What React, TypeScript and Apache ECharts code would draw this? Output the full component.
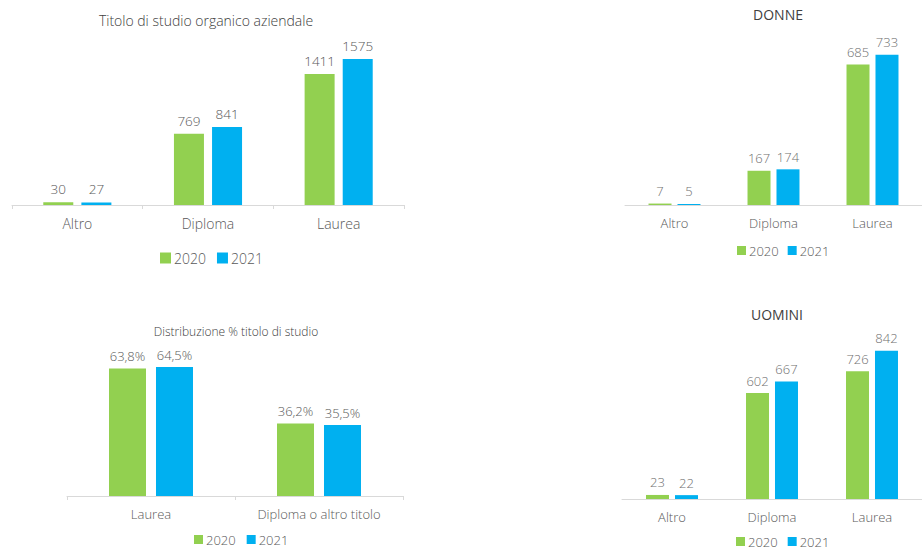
import React, { useEffect, useRef } from "react";
import * as echarts from "echarts";

const years = ["2020", "2021"];

const totCategories = ["Altro", "Diploma", "Laurea"];
const tot2020 = [30, 769, 1411];
const tot2021 = [27, 841, 1575];

const donneCategories = ["Altro", "Diploma", "Laurea"];
const donne2020 = [7, 167, 685];
const donne2021 = [5, 174, 733];

const pctCategories = ["Laurea", "Diploma o altro titolo"];
const pct2020 = [63.8, 36.2];
const pct2021 = [64.5, 35.5];

const uominiCategories = ["Altro", "Diploma", "Laurea"];
const uomini2020 = [23, 602, 726];
const uomini2021 = [22, 667, 842];

const GREEN = "#92D050";
const BLUE = "#00B0F0";
const FONT = "'Open Sans', sans-serif";
const LIGHT = 300;

export default function App() {
  const ref = useRef<HTMLDivElement>(null);
  useEffect(() => {
    document.body.style.margin = "0";
    const chart = echarts.init(ref.current!, undefined, { renderer: "svg" });

    const grids = [
      { left: 12, width: 392, top: 38, height: 167 },
      { left: 625, width: 306, top: 41, height: 164 },
      { left: 67, width: 336, top: 356, height: 140 },
      { left: 622, width: 310, top: 340.6, height: 158.4 },
    ];
    const cats = [totCategories, donneCategories, pctCategories, uominiCategories];
    const maxes = [1800, 800, 70, 900];
    const showTicks = [true, false, true, false];
    const catFont = [14, 13, 13, 13];
    const labelFont = [13.5, 13, 13, 13];
    const labelColor = ["#595959", "#6f6f6f", "#595959", "#6f6f6f"];
    const barWidths = [30, 23, 37, 23];
    const barGaps = ["27%", "26%", "27%", "26%"];
    const data = [
      [tot2020, tot2021],
      [donne2020, donne2021],
      [pct2020, pct2021],
      [uomini2020, uomini2021],
    ];

    const xAxis = cats.map((c, i) => ({
      type: "category",
      gridIndex: i,
      data: c,
      axisLine: { lineStyle: { color: "#d9d9d9", width: 1 } },
      axisTick: { show: showTicks[i], length: 4, lineStyle: { color: "#d9d9d9" } },
      axisLabel: {
        color: "#595959",
        fontSize: catFont[i],
        fontFamily: FONT,
        fontWeight: LIGHT,
        margin: 11,
      },
    }));
    const yAxis = maxes.map((m, i) => ({
      type: "value",
      gridIndex: i,
      min: 0,
      max: m,
      show: false,
      splitLine: { show: false },
    }));

    const series: any[] = [];
    data.forEach((pair, i) => {
      pair.forEach((vals, j) => {
        series.push({
          type: "bar",
          name: years[j],
          xAxisIndex: i,
          yAxisIndex: i,
          data: vals,
          barWidth: barWidths[i],
          barGap: barGaps[i],
          itemStyle: { color: j === 0 ? GREEN : BLUE },
          label: {
            show: true,
            position: "top",
            distance: 6,
            color: labelColor[i],
            fontSize: labelFont[i],
            fontFamily: FONT,
            fontWeight: LIGHT,
            formatter:
              i === 2
                ? (p: any) => p.value.toFixed(1).replace(".", ",") + "%"
                : (p: any) => String(p.value),
          },
        });
      });
    });

    const legendPos = [
      { left: 160, top: 251, size: 11, font: 14, gap: 11 },
      { left: 737, top: 244, size: 9, font: 13, gap: 9 },
      { left: 194, top: 533, size: 9, font: 13, gap: 11 },
      { left: 736, top: 535, size: 9, font: 13, gap: 10 },
    ];
    const legend = legendPos.map((l) => ({
      data: years,
      left: l.left,
      top: l.top,
      icon: "rect",
      itemWidth: l.size,
      itemHeight: l.size,
      itemGap: l.gap,
      padding: 0,
      textStyle: {
        color: "#595959",
        fontSize: l.font,
        fontFamily: FONT,
        fontWeight: LIGHT,
        padding: [0, 0, 0, -2],
      },
      selectedMode: false,
    }));

    const title = [
      { text: "Titolo di studio organico aziendale", x: 206, y: 13, size: 14, weight: LIGHT, color: "#404040" },
      { text: "DONNE", x: 778, y: 7, size: 14, weight: "normal", color: "#404040" },
      { text: "Distribuzione % titolo di studio", x: 236, y: 325, size: 12, weight: LIGHT, color: "#404040" },
      { text: "UOMINI", x: 777, y: 307, size: 14, weight: "normal", color: "#404040" },
    ].map((t) => ({
      text: t.text,
      left: t.x,
      top: t.y,
      textAlign: "center",
      padding: 0,
      textStyle: { fontSize: t.size, fontWeight: t.weight, color: t.color, fontFamily: FONT },
    }));

    chart.setOption({
      animation: false,
      backgroundColor: "#ffffff",
      title,
      legend,
      grid: grids,
      xAxis,
      yAxis,
      series,
    });
    return () => chart.dispose();
  }, []);
  return <div ref={ref} style={{ width: 922, height: 549 }} />;
}
